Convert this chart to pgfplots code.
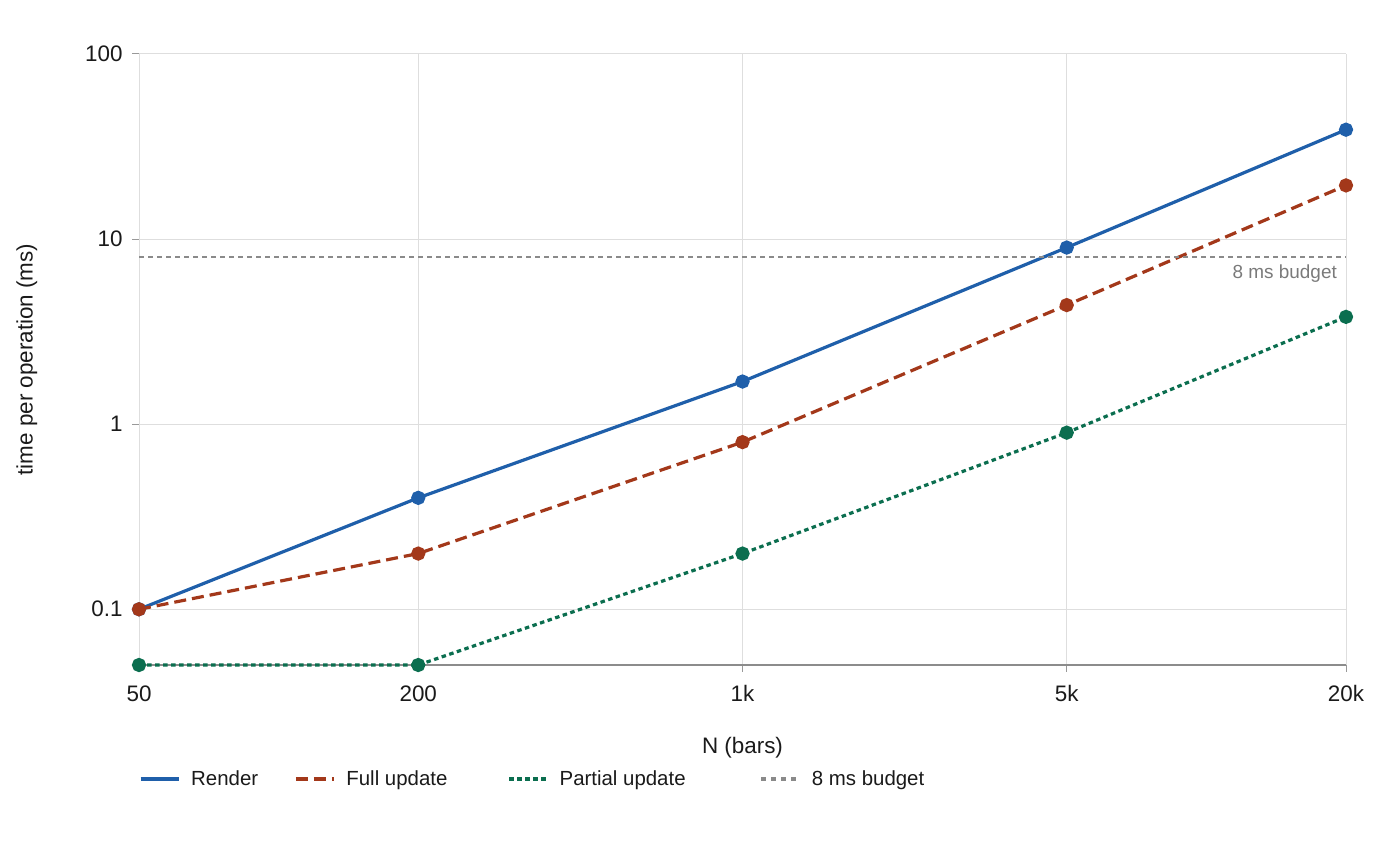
\documentclass[border=0pt]{standalone}
\usepackage{pgfplots}
\pgfplotsset{compat=1.18}
\usepackage{fontspec}
\setmainfont{Liberation Sans}
\definecolor{cRender}{HTML}{1F5FAA}
\definecolor{cFull}{HTML}{A3381A}
\definecolor{cPartial}{HTML}{0B6E4F}
\definecolor{cBudget}{HTML}{8A8A8A}
\definecolor{gridgray}{HTML}{DEDEDE}
\definecolor{axisgray}{HTML}{8C8C8C}
\definecolor{tickgray}{HTML}{999999}
\definecolor{textdark}{HTML}{1A1A1A}
\definecolor{annotgray}{HTML}{7A7A7A}
\begin{document}
\begin{tikzpicture}
\useasboundingbox (0,0) rectangle (1400bp,842bp);
\begin{axis}[
  at={(139bp,177bp)}, anchor=south west,
  scale only axis, width=1207bp, height=611bp,
  xmode=log, ymode=log,
  xmin=50, xmax=20000, ymin=0.05, ymax=100,
  xtick={50,200,1000,5000,20000}, xticklabels={50,200,1k,5k,20k},
  ytick={0.1,1,10,100}, yticklabels={0.1,1,10,100},
  xminorticks=false, yminorticks=false,
  axis x line*=bottom, axis y line*=left,
  x axis line style={draw=axisgray, line width=1.8bp, -},
  y axis line style={draw=gridgray, line width=1bp, -},
  tick align=outside, major tick length=7bp,
  every tick/.style={draw=tickgray, line width=1bp},
  grid=major, major grid style={draw=gridgray, line width=1bp},
  clip=false,
  ticklabel style={font=\fontsize{22.5}{26}\selectfont, text=textdark},
  xticklabel style={yshift=-10bp},
  yticklabel style={xshift=-6bp},
  xlabel={N (bars)}, ylabel={time per operation (ms)},
  label style={font=\fontsize{22.5}{27}\selectfont, text=textdark},
  xlabel style={at={(axis description cs:0.5,-0.1350)}, anchor=center},
  ylabel style={at={(axis description cs:-0.0930,0.5)}, anchor=center},
  legend columns=4,
  legend cell align=left,
  legend image code/.code={\draw[#1] (0bp,0bp) -- (38bp,0bp);},
  legend style={at={(axis description cs:0,-0.1866)}, anchor=west,
    draw=none, fill=none, inner sep=0pt, outer sep=0pt,
    font=\fontsize{20.5}{24}\selectfont, text=textdark,
    nodes={inner sep=0pt},
    /tikz/every odd column/.append style={column sep=11bp}},
]
\addplot[draw=cRender, line width=3.2bp, mark=*, mark size=5.5bp,
  mark options={solid, fill=cRender, draw=cRender}]
  coordinates {(50,0.1) (200,0.4) (1000,1.7) (5000,9.0) (20000,39)};
\addlegendentry{Render\hspace*{36bp}}
\addplot[draw=cFull, line width=3.2bp, dash pattern=on 12bp off 6bp, mark=*, mark size=5.5bp,
  mark options={solid, fill=cFull, draw=cFull}]
  coordinates {(50,0.1) (200,0.2) (1000,0.8) (5000,4.4) (20000,19.5)};
\addlegendentry{Full update\hspace*{60bp}}
\addplot[draw=cPartial, line width=3.2bp, dash pattern=on 4.5bp off 3.5bp, mark=*, mark size=5.5bp,
  mark options={solid, fill=cPartial, draw=cPartial}]
  coordinates {(50,0.05) (200,0.05) (1000,0.2) (5000,0.9) (20000,3.8)};
\addlegendentry{Partial update\hspace*{74bp}}
\addplot[draw=cBudget, line width=2bp, dash pattern=on 5bp off 4bp, mark=none,
  legend image code/.code={\draw[cBudget, line width=3.2bp, dash pattern=on 5bp off 5bp] (0bp,0bp) -- (38bp,0bp);}]
  coordinates {(50,8) (20000,8)};
\addlegendentry{8 ms budget}
\node[anchor=north east, inner sep=0pt, font=\fontsize{19}{22}\selectfont, text=annotgray]
  at (axis cs:20000,8) [xshift=-9bp, yshift=-8bp] {8 ms budget};
\end{axis}
\end{tikzpicture}
\end{document}
